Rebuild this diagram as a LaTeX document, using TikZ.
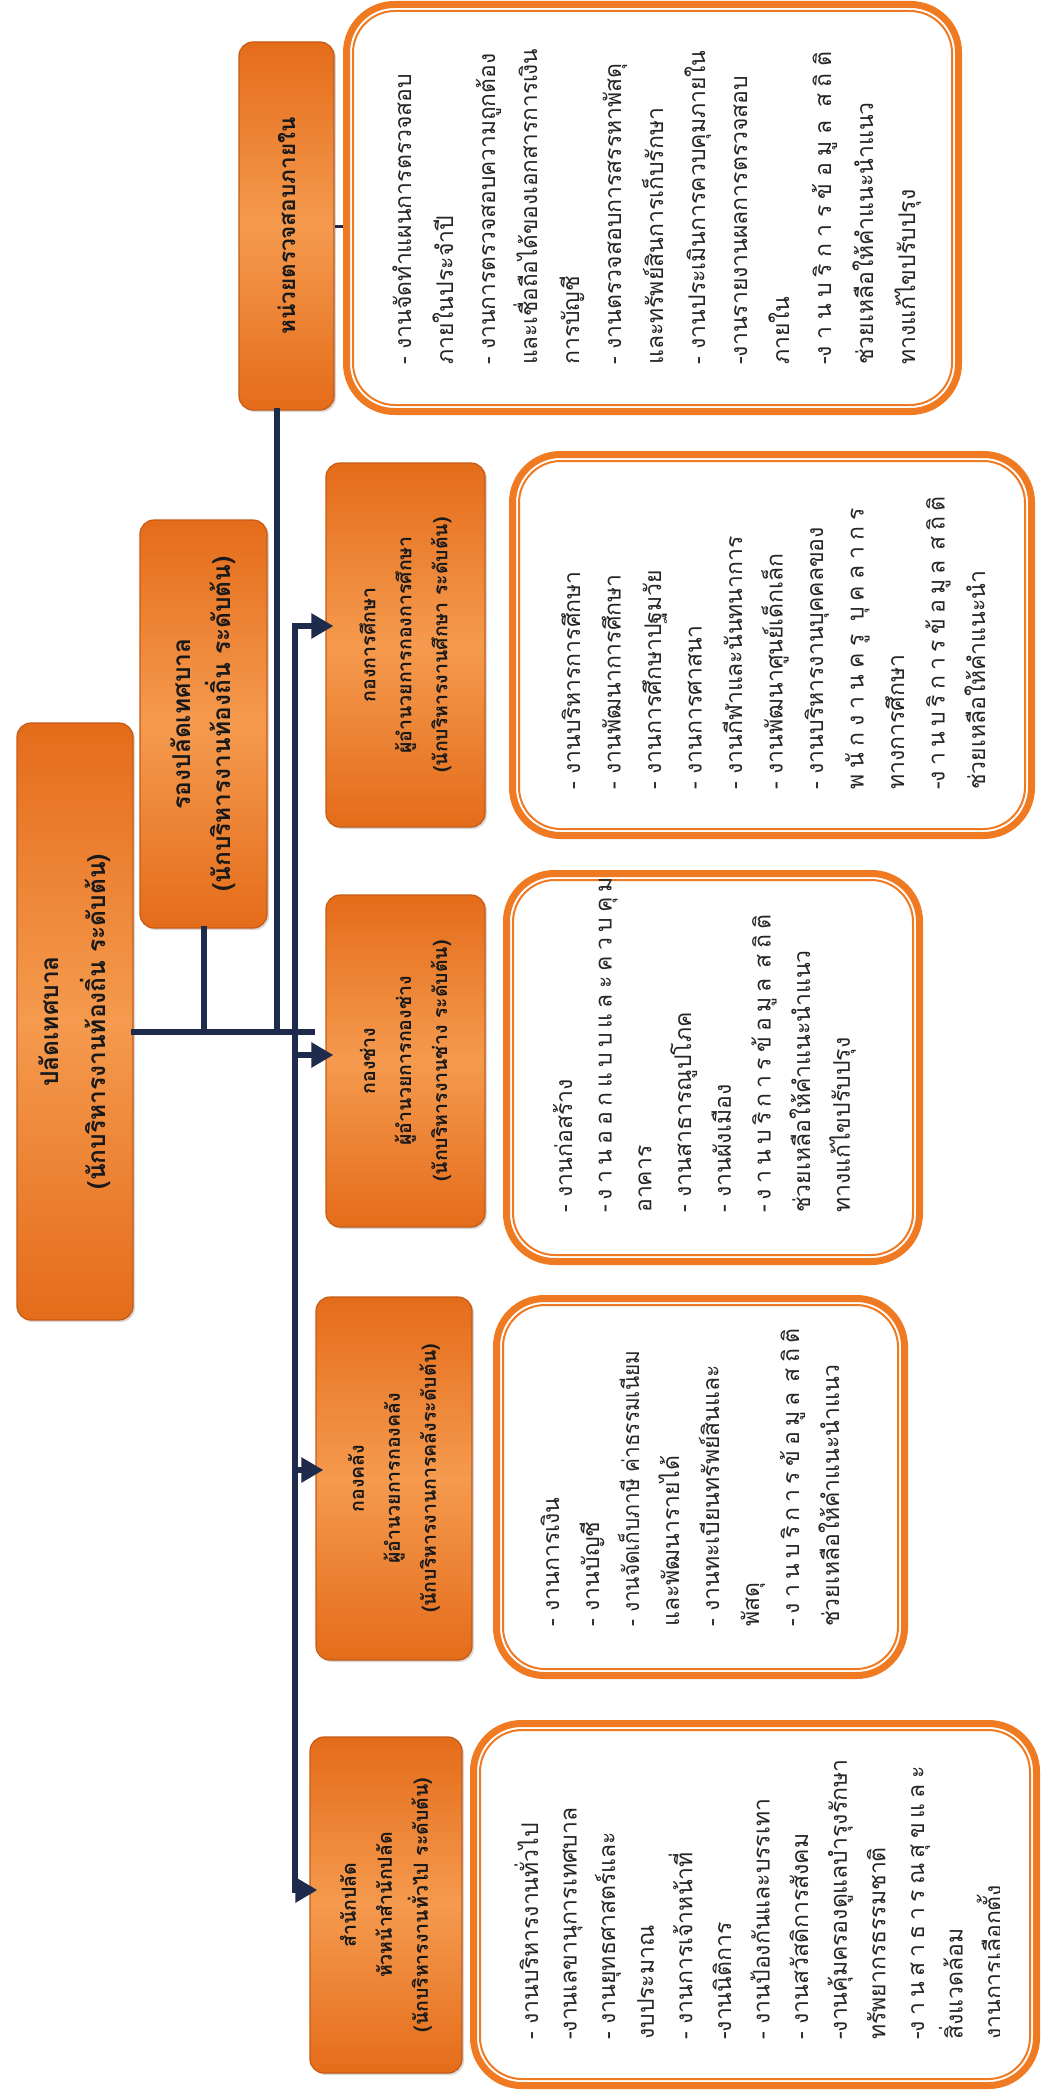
\documentclass[tikz,border=0pt]{standalone}
\usepackage{fontspec}
\usepackage{graphicx}
\newfontfamily\thai[Script=Thai]{Loma}
\usetikzlibrary{arrows.meta,calc,shadows}
\definecolor{navy}{HTML}{1F2B4D}
\definecolor{hdrA}{HTML}{E46C1A}
\definecolor{hdrB}{HTML}{F59A4E}
\definecolor{hdrline}{HTML}{C55A14}
\definecolor{bord}{HTML}{F07A22}
\newcommand\spr[2]{\makebox[#1pt][s]{#2}}
\newcommand\fitw[2]{\resizebox{#1pt}{\height}{#2}}
\newcommand\tlines[5]{%
  \foreach \t [count=\i from 0] in {#5} {\node[cl] (#1-\i) at ({#2+\i*#3},#4) {\t};}}
\begin{document}
\begin{tikzpicture}[x=1pt,y=-1pt,
  hdr/.style={rectangle, rounded corners=14pt, rotate=90, draw=hdrline, line width=1.2pt,
    top color=hdrA, bottom color=hdrA, middle color=hdrB, align=center, text=black!90,
    inner sep=0pt, drop shadow={opacity=0.3,shadow xshift=2pt,shadow yshift=-2pt}},
  cbo/.style={rectangle, rounded corners=48pt, draw=bord, line width=7pt, fill=white},
  cbi/.style={rectangle, rounded corners=42pt, draw=bord, line width=2pt},
  cl/.style={rotate=90, anchor=base west, inner sep=0pt, text=black!85,
    font=\thai\fontsize{23}{23}\selectfont},
  conn/.style={draw=navy, line width=6pt, line cap=rect},
  arr/.style={draw=navy, line width=6pt, line cap=rect, shorten >=-8pt,
    -{Triangle[length=22pt,width=24pt]}}]
\fill[white] (0,0) rectangle (1045,2098);
\useasboundingbox (0,0) rectangle (1045,2098);

% ---- header boxes ----
\node[hdr, minimum width=597, minimum height=116,
  font=\thai\bfseries\fontsize{24.5}{47}\selectfont] (top) at (75,1021.5)
  {ปลัดเทศบาล\\(นักบริหารงานท้องถิ่น ระดับต้น)};
\node[hdr, minimum width=408, minimum height=127,
  font=\thai\bfseries\fontsize{24.5}{40}\selectfont] (rong) at (203.5,724)
  {รองปลัดเทศบาล\\(นักบริหารงานท้องถิ่น ระดับต้น)};
\node[hdr, minimum width=368, minimum height=95,
  font=\thai\bfseries\fontsize{22.5}{27}\selectfont] (audh) at (286.5,226)
  {หน่วยตรวจสอบภายใน};
\node[hdr, minimum width=364, minimum height=159,
  font=\thai\bfseries\fontsize{19.5}{36}\selectfont] (eduh) at (405.5,645)
  {กองการศึกษา\\ผู้อำนวยการกองการศึกษา\\(นักบริหารงานศึกษา ระดับต้น)};
\node[hdr, minimum width=332, minimum height=159,
  font=\thai\bfseries\fontsize{19.5}{36}\selectfont] (engh) at (405.5,1061)
  {กองช่าง\\ผู้อำนวยการกองช่าง\\(นักบริหารงานช่าง ระดับต้น)};
\node[hdr, minimum width=363, minimum height=156,
  font=\thai\bfseries\fontsize{19.5}{36}\selectfont] (finh) at (394,1478.5)
  {กองคลัง\\ผู้อำนวยการกองคลัง\\(นักบริหารงานการคลังระดับต้น)};
\node[hdr, minimum width=336, minimum height=152,
  font=\thai\bfseries\fontsize{19.5}{36}\selectfont] (offh) at (386,1905)
  {สำนักปลัด\\หัวหน้าสำนักปลัด\\(นักบริหารงานทั่วไป ระดับต้น)};

% ---- content boxes ----
\node[cbo, minimum width=612, minimum height=407] (audC) at (652.5,208) {};
\node[cbi, minimum width=599, minimum height=394] (audCi) at (audC) {};
\node[cbo, minimum width=519, minimum height=381] (eduC) at (772,645) {};
\node[cbi, minimum width=506, minimum height=368] (eduCi) at (eduC) {};
\node[cbo, minimum width=413, minimum height=388] (engC) at (713,1067.5) {};
\node[cbi, minimum width=400, minimum height=375] (engCi) at (engC) {};
\node[cbo, minimum width=408, minimum height=377] (finC) at (700.5,1487) {};
\node[cbi, minimum width=395, minimum height=364] (finCi) at (finC) {};
\node[cbo, minimum width=563, minimum height=362] (offC) at (755,1904.5) {};
\node[cbi, minimum width=550, minimum height=349] (offCi) at (offC) {};

% ---- content text ----
\tlines{aud}{411}{42}{365}{- งานจัดทำแผนการตรวจสอบ, ภายในประจำปี,
  \fitw{311}{- งานการตรวจสอบความถูกต้อง},
  \fitw{316}{และเชื่อถือได้ของเอกสารการเงิน}, การบัญชี,
  - งานตรวจสอบการสรรหาพัสดุ, และทรัพย์สินการเก็บรักษา,
  - งานประเมินการควบคุมภายใน, -งานรายงานผลการตรวจสอบ, ภายใน,
  \spr{313}{-ง า น บ ริ ก า ร ข้ อ มู ล \ ส ถิ ติ},
  ช่วยเหลือให้คำแนะนำแนว, ทางแก้ไขปรับปรุง}
\tlines{edu}{580}{40.5}{790}{- งานบริหารการศึกษา, - งานพัฒนาการศึกษา,
  - งานการศึกษาปฐมวัย, - งานการศาสนา, - งานกีฬาและนันทนาการ,
  - งานพัฒนาศูนย์เด็กเล็ก, - งานบริหารงานบุคคลของ,
  \spr{282}{พ นั ก ง า น ค รู \ บุ ค ล า ก ร}, ทางการศึกษา,
  \spr{282}{-ง า น บ ริ ก า ร ข้ อ มู ล \ ส ถิ ติ}, ช่วยเหลือให้คำแนะนำ}
\tlines{eng}{572}{39.7}{1213}{- งานก่อสร้าง,
  \spr{283}{- ง า น อ อ ก แ บ บ แ ล ะ ค ว บ คุ ม}, อาคาร,
  - งานสาธารณูปโภค, - งานผังเมือง,
  \spr{283}{- ง า น บ ริ ก า ร ข้ อ มู ล \ ส ถิ ติ},
  ช่วยเหลือให้คำแนะนำแนว, ทางแก้ไขปรับปรุง}
\tlines{fin}{559}{40}{1627}{- งานการเงิน, - งานบัญชี,
  \fitw{276}{- งานจัดเก็บภาษี ค่าธรรมเนียม}, และพัฒนารายได้,
  - งานทะเบียนทรัพย์สินและ, พัสดุ,
  \spr{274}{- ง า น บ ริ ก า ร ข้ อ มู ล \ ส ถิ ติ},
  ช่วยเหลือให้คำแนะนำแนว}
\tlines{off}{538}{38.6}{2040}{- งานบริหารงานทั่วไป, -งานเลขานุการเทศบาล,
  - งานยุทธศาสตร์และ, งบประมาณ, - งานการเจ้าหน้าที่, -งานนิติการ,
  - งานป้องกันและบรรเทา, - งานสวัสดิการสังคม,
  -งานคุ้มครองดูแลบำรุงรักษา, ทรัพยากรธรรมชาติ,
  \spr{266}{-ง า น ส า ธ า ร ณ สุ ข แ ล ะ}, สิ่งแวดล้อม}
\begin{scope}
  \clip (0,0) rectangle (999,2098);
  \node[cl] (off-12) at (1001,2040) {งานการเลือกตั้ง};
\end{scope}

% ---- connectors ----
\coordinate (tr) at (312,1032);
\coordinate (b1) at (295,626);
\coordinate (b2) at (295,1055);
\coordinate (b3) at (295,1470);
\coordinate (b4) at (295,1890);
\path (audh.west) ++(-10,0) coordinate (ab);
\draw[conn] (top.south |- tr) -- (tr);
\draw[conn] (rong.west) -- (rong.west |- tr);
\draw[conn] (ab) -- (ab |- tr);
\draw[draw=navy, line width=3pt] (audh.south) -- (audh.south -| audC.west);
\draw[arr] (b1) -- (b1 -| eduh.north);
\draw[arr] (b2) -- (b2 -| engh.north);
\draw[arr] (b3) -- (b3 -| finh.north);
\draw[arr] (b1) -- (b4) -- (b4 -| offh.north);
\end{tikzpicture}
\end{document}
